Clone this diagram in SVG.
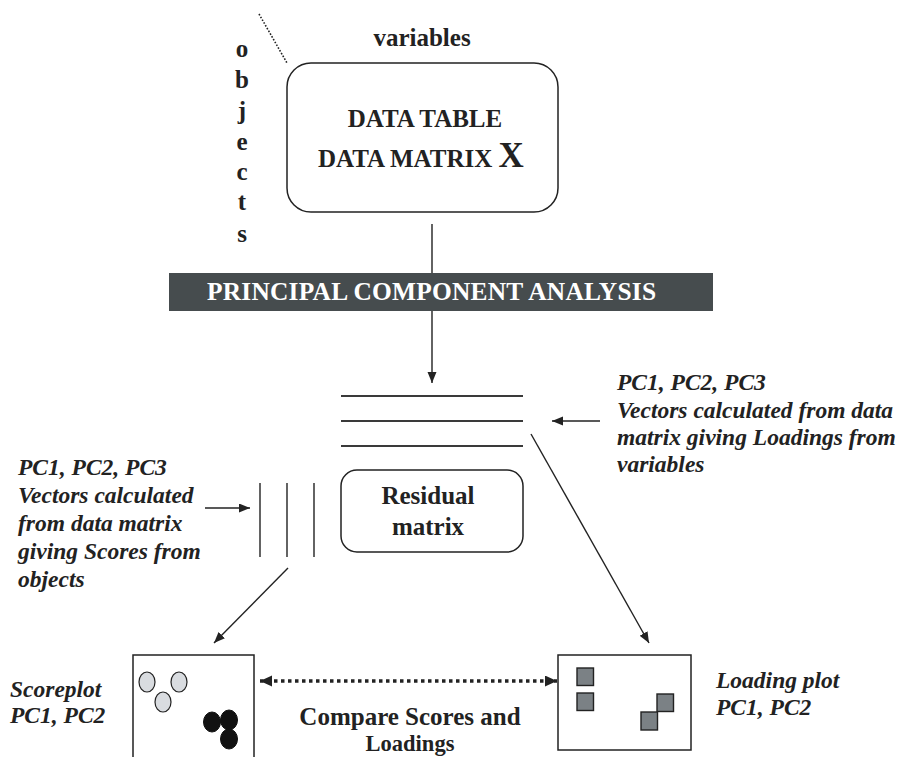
<svg xmlns="http://www.w3.org/2000/svg" width="898" height="757" viewBox="0 0 898 757">
<style>
.b{font-family:"Liberation Serif","Times New Roman",serif;font-weight:bold;fill:#222}
.bi{font-family:"Liberation Serif","Times New Roman",serif;font-weight:bold;font-style:italic;fill:#222;font-size:23.5px}
.box{fill:#fff;stroke:#222;stroke-width:1.5}
.ln{stroke:#222;stroke-width:1.4;fill:none}
.hl{stroke:#3a3a3a;stroke-width:1.8}
.lc{fill:#d9dce0;stroke:#222;stroke-width:1.2}
.dc{fill:#111;stroke:#111;stroke-width:1}
.sq{fill:#7b8185;stroke:#222;stroke-width:1.4}
</style>
<defs>
<marker id="ah" markerUnits="userSpaceOnUse" markerWidth="12" markerHeight="10" refX="11" refY="4.5" orient="auto">
<path d="M0,0 L11,4.5 L0,9 Z" fill="#222"/>
</marker>
<marker id="ahd" markerUnits="userSpaceOnUse" markerWidth="13" markerHeight="12" refX="12" refY="5.5" orient="auto-start-reverse">
<path d="M0,0 L12,5.5 L0,11 Z" fill="#222"/>
</marker>
</defs>

<g id="labels-axes">
<text class="b" x="422" y="46" font-size="25" text-anchor="middle">variables</text>
<g class="b" font-size="25" text-anchor="middle">
<text x="242" y="57">o</text>
<text x="242" y="88">b</text>
<text x="242" y="119">j</text>
<text x="242" y="150">e</text>
<text x="242" y="180">c</text>
<text x="242" y="210">t</text>
<text x="242" y="242">s</text>
</g>
</g>

<g id="data-table">
<rect class="box" x="287" y="63" width="271" height="149" rx="24"/>
<text class="b" x="425" y="127" font-size="25" text-anchor="middle">DATA TABLE</text>
<text class="b" x="318" y="167" font-size="25">DATA MATRIX <tspan font-size="35">X</tspan></text>
</g>

<g id="pca">
<rect x="169" y="273" width="544" height="38" fill="#464c4e"/>
<text class="b" x="207" y="300" font-size="25.4" textLength="449" style="fill:#fff">PRINCIPAL COMPONENT ANALYSIS</text>
</g>

<g id="loadings-vectors">
<line class="hl" x1="341" y1="396" x2="523" y2="396"/>
<line class="hl" x1="341" y1="421" x2="523" y2="421"/>
<line class="hl" x1="341" y1="446" x2="523" y2="446"/>
</g>

<g id="scores-vectors">
<line class="ln" x1="260" y1="483" x2="260" y2="557"/>
<line class="ln" x1="287" y1="483" x2="287" y2="557"/>
<line class="ln" x1="314" y1="483" x2="314" y2="557"/>
</g>

<g id="residual">
<rect class="box" x="341" y="470" width="182" height="82" rx="16"/>
<text class="b" x="428" y="504" font-size="25" text-anchor="middle">Residual</text>
<text class="b" x="428" y="535" font-size="25" text-anchor="middle">matrix</text>
</g>

<g id="loadings-text">
<text class="bi" x="617" y="390">PC1, PC2, PC3</text>
<text class="bi" x="617" y="418">Vectors calculated from data</text>
<text class="bi" x="617" y="445">matrix giving Loadings from</text>
<text class="bi" x="617" y="472">variables</text>
</g>

<g id="scores-text">
<text class="bi" x="18" y="475">PC1, PC2, PC3</text>
<text class="bi" x="18" y="503">Vectors calculated</text>
<text class="bi" x="18" y="531">from data matrix</text>
<text class="bi" x="18" y="559">giving Scores from</text>
<text class="bi" x="18" y="587">objects</text>
</g>

<g id="scoreplot">
<rect class="box" x="133" y="655" width="121" height="110"/>
<ellipse class="lc" cx="147" cy="682" rx="8" ry="10"/>
<ellipse class="lc" cx="179" cy="682" rx="8" ry="10"/>
<ellipse class="lc" cx="163" cy="702" rx="8" ry="10"/>
<ellipse class="dc" cx="212" cy="722" rx="8.5" ry="10"/>
<ellipse class="dc" cx="229" cy="720" rx="8.5" ry="10"/>
<ellipse class="dc" cx="229" cy="739" rx="8.5" ry="10"/>
<text class="bi" x="10" y="697">Scoreplot</text>
<text class="bi" x="10" y="723">PC1, PC2</text>
</g>

<g id="loadingplot">
<rect class="box" x="558" y="655" width="133" height="95"/>
<rect class="sq" x="577" y="668" width="16.5" height="17.5"/>
<rect class="sq" x="577" y="693" width="16.5" height="17.5"/>
<rect class="sq" x="657" y="694" width="16.5" height="17.5"/>
<rect class="sq" x="641" y="712" width="16.5" height="18"/>
<text class="bi" x="716" y="688">Loading plot</text>
<text class="bi" x="716" y="715">PC1, PC2</text>
</g>

<g id="compare">
<text class="b" x="410" y="725" font-size="25" text-anchor="middle">Compare Scores and</text>
<text class="b" x="410" y="751" font-size="22.5" text-anchor="middle">Loadings</text>
</g>

<g id="connectors">
<line x1="259" y1="14" x2="287" y2="63" stroke="#222" stroke-width="1.6" stroke-dasharray="1.6 1.6"/>
<line class="ln" x1="432" y1="224" x2="432" y2="273"/>
<line class="ln" x1="432" y1="311" x2="432" y2="383" marker-end="url(#ah)"/>
<line class="ln" x1="600" y1="421" x2="552" y2="421" marker-end="url(#ah)"/>
<line class="ln" x1="205" y1="508" x2="250" y2="508" marker-end="url(#ah)"/>
<line class="ln" x1="531" y1="434" x2="649" y2="643" marker-end="url(#ah)"/>
<line class="ln" x1="288" y1="568" x2="214" y2="643" marker-end="url(#ah)"/>
<line x1="260" y1="681" x2="557" y2="681" stroke="#222" stroke-width="3.5" stroke-dasharray="3.5 3.5" marker-start="url(#ahd)" marker-end="url(#ahd)"/>
</g>
</svg>
